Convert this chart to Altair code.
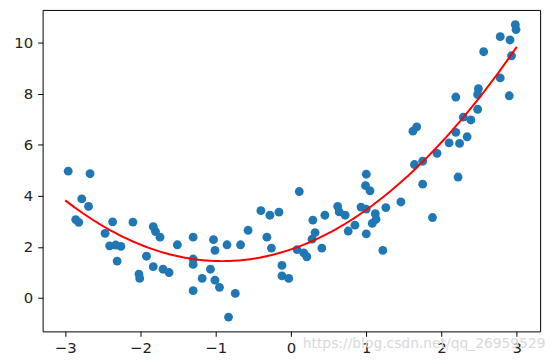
import altair as alt
import pandas as pd

xs = [-2.96, -2.67, -2.78, -2.69, -2.86, -2.82, -2.37, -2.47, -2.10, -1.83,
      -1.80, -1.74, -2.41, -2.33, -2.26, -2.31, -1.92, -2.02, -2.01, -1.83,
      -1.70, -1.62, -1.51, -1.30, -1.30, -1.30, -1.30, -1.18, -1.07, -1.01,
      -0.95, -1.03, -1.01, -0.85, -0.83, -0.74, -0.67, -0.57, -0.40, -0.28,
      -0.16, -0.32, -0.26, -0.12, -0.12, -0.03, 0.11, 0.08, 0.17, 0.21,
      0.28, 0.32, 0.29, 0.45, 0.41, 0.62, 0.64, 0.72, 0.85, 0.76,
      0.93, 1.00, 0.99, 1.05, 1.00, 1.00, 1.12, 1.08, 1.13, 1.26,
      1.22, 1.46, 1.62, 1.67, 1.64, 1.75, 1.94, 1.75, 1.88, 2.10,
      2.24, 2.19, 2.34, 2.29, 2.39, 2.22, 2.98, 2.99, 2.78, 2.91,
      2.56, 2.93, 2.78, 2.90, 2.49, 2.48, 2.19, 2.48]
ys = [4.97, 4.87, 3.88, 3.59, 3.07, 2.96, 2.98, 2.53, 2.97, 2.79,
      2.60, 2.38, 2.04, 2.07, 2.02, 1.44, 1.63, 0.93, 0.76, 1.22,
      1.12, 0.99, 2.08, 2.38, 1.52, 1.31, 0.28, 0.76, 1.12, 0.69,
      0.41, 2.28, 1.86, 2.08, -0.76, 0.17, 2.08, 2.65, 3.42, 3.24,
      3.36, 2.38, 1.95, 1.27, 0.86, 0.76, 4.17, 1.89, 1.76, 1.61,
      2.30, 2.56, 3.05, 3.24, 1.95, 3.59, 3.37, 3.24, 2.85, 2.62,
      3.56, 4.85, 4.40, 4.20, 3.48, 2.51, 3.30, 2.92, 3.08, 3.54,
      1.86, 3.76, 6.54, 6.71, 5.23, 5.36, 5.67, 4.46, 3.15, 6.08,
      6.06, 6.49, 6.32, 7.09, 6.98, 4.74, 10.72, 10.53, 10.25, 10.12,
      9.66, 9.50, 8.63, 7.93, 8.21, 7.98, 7.88, 7.40]

x_ticks = [-3, -2, -1, 0, 1, 2, 3]
y_ticks = [0, 2, 4, 6, 8, 10]
fit_extent = [-3, 3]
watermark = ["https://blog.csdn.net/qq_26959529"]

df = pd.DataFrame({"x": xs, "y": ys})

xscale = alt.Scale(domain=[-3.3, 3.31], nice=False, zero=False)
yscale = alt.Scale(domain=[-1.32, 11.3], nice=False, zero=False)

axis_common = dict(
    grid=False, domain=False, tickColor="#000", tickSize=5, tickWidth=1,
    labelFont="DejaVu Sans", labelFontSize=15, labelColor="#222",
    title=None, format="d",
)

base = alt.Chart(df)

points = base.mark_circle(size=80, color="#1f77b4", opacity=1).encode(
    x=alt.X("x:Q", scale=xscale, axis=alt.Axis(values=x_ticks, labelPadding=4, **axis_common)),
    y=alt.Y("y:Q", scale=yscale, axis=alt.Axis(values=y_ticks, labelPadding=5, **axis_common)),
)

line = base.transform_regression(
    "x", "y", method="poly", order=2, extent=fit_extent
).mark_line(color="#ff0000", strokeWidth=2).encode(
    x=alt.X("x:Q", scale=xscale), y=alt.Y("y:Q", scale=yscale)
)

wm = alt.Chart(pd.DataFrame({"t": watermark})).mark_text(
    align="left", baseline="middle", font="DejaVu Sans", fontSize=14, color="#d9d9d9"
).encode(text="t:N", x=alt.value(263), y=alt.value(338))

chart = alt.layer(points, line, wm).properties(
    width=503, height=325,
    padding={"left": 5, "top": 0, "right": 5, "bottom": 5},
).configure_view(stroke="#000", strokeWidth=1)

chart.save("out.html", embed_options={"renderer": "svg", "actions": False})
